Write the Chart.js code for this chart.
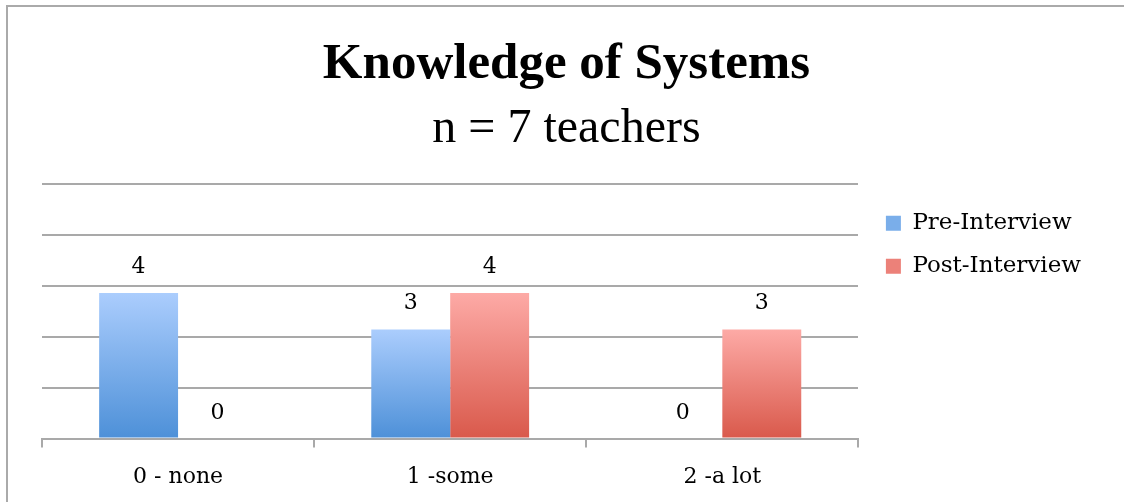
<!DOCTYPE html>
<html>
<head>
<meta charset="utf-8">
<script src="https://cdn.jsdelivr.net/npm/chart.js@4/dist/chart.umd.min.js"></script>
<style>
  html, body { margin: 0; padding: 0; background: #fff; }
  #wrap { position: relative; width: 1124px; height: 502px; overflow: hidden; }
  #frame {
    position: absolute; left: 6px; top: 5px; width: 2000px; height: 2000px;
    border-left: 2px solid #aaaaaa; border-top: 2px solid #aaaaaa;
  }
  #chart { position: absolute; left: 0; top: 0; }
</style>
</head>
<body>
<div id="wrap">
  <div id="frame"></div>
  <canvas id="chart" width="1124" height="502"></canvas>
</div>
<script>
// chart data
const categories = ["0 - none", "1 -some", "2 -a lot"];
const seriesNames = ["Pre-Interview", "Post-Interview"];
const preValues = [4, 3, 0];
const postValues = [0, 4, 3];
const yMax = 7;
const yStep = 1.4;

// colours (top -> bottom of each bar)
const blueTop = "#abcdfd";
const blueBottom = "#4d90d8";
const redTop = "#fdaaa6";
const redBottom = "#d9594b";

const gridColor = "#a9a9a9";
const smallFont = { family: "'DejaVu Serif', serif", size: 22 };
const legendFont = { family: "'DejaVu Serif', serif", size: 23 };

// gradient per bar, from its top down to the baseline
function barGradient(topColor, bottomColor, solid) {
  return function (context) {
    const chart = context.chart;
    if (!chart.chartArea || context.type !== "data") return solid;
    const yScale = chart.scales.y;
    const top = yScale.getPixelForValue(context.parsed.y);
    const bottom = yScale.getPixelForValue(0);
    if (bottom - top < 1) return solid;
    const g = chart.ctx.createLinearGradient(0, top, 0, bottom);
    g.addColorStop(0, topColor);
    g.addColorStop(1, bottomColor);
    return g;
  };
}

// value labels above every bar
const valueLabels = {
  id: "valueLabels",
  afterDatasetsDraw(chart) {
    const ctx = chart.ctx;
    ctx.save();
    ctx.font = smallFont.size + "px " + smallFont.family;
    ctx.fillStyle = "#000";
    ctx.textAlign = "center";
    ctx.textBaseline = "alphabetic";
    chart.data.datasets.forEach((ds, i) => {
      chart.getDatasetMeta(i).data.forEach((bar, j) => {
        ctx.fillText(String(ds.data[j]), bar.x, bar.y - 20);
      });
    });
    ctx.restore();
  },
};

new Chart(document.getElementById("chart"), {
  type: "bar",
  data: {
    labels: categories,
    datasets: [
      {
        label: seriesNames[0],
        data: preValues,
        backgroundColor: barGradient(blueTop, blueBottom, "#7aaeea"),
        borderWidth: 0,
      },
      {
        label: seriesNames[1],
        data: postValues,
        backgroundColor: barGradient(redTop, redBottom, "#ec8179"),
        borderWidth: 0,
      },
    ],
  },
  options: {
    responsive: false,
    animation: false,
    devicePixelRatio: 1,
    datasets: {
      bar: { categoryPercentage: 0.58, barPercentage: 1 },
    },
    layout: {
      padding: { left: 42, right: 33, top: 0, bottom: -4 },
    },
    plugins: {
      title: {
        display: true,
        text: "Knowledge of Systems",
        color: "#000",
        font: { family: "'Liberation Serif', serif", size: 51, weight: "bold", lineHeight: 1.2 },
        padding: { top: 34, bottom: 0 },
      },
      subtitle: {
        display: true,
        text: "n = 7 teachers",
        color: "#000",
        font: { family: "'Liberation Serif', serif", size: 48, lineHeight: 1.2 },
        padding: { top: 5, bottom: 26 },
      },
      legend: {
        position: "right",
        align: "start",
        fullSize: false,
        title: { display: true, text: "", font: { size: 8, lineHeight: 1 }, padding: 0 },
        labels: {
          color: "#000",
          font: legendFont,
          boxWidth: 15,
          boxHeight: 15,
          padding: 20,
          generateLabels(chart) {
            const solid = ["#7aaeea", "#ec8179"];
            return chart.data.datasets.map((ds, i) => ({
              text: ds.label,
              fillStyle: solid[i],
              strokeStyle: solid[i],
              lineWidth: 0,
              hidden: false,
              datasetIndex: i,
              fontColor: "#000",
            }));
          },
        },
      },
      tooltip: { enabled: false },
    },
    scales: {
      x: {
        grid: {
          offset: true,
          drawOnChartArea: false,
          drawTicks: true,
          tickLength: 9,
          color: gridColor,
          lineWidth: 2,
        },
        border: { display: true, color: gridColor, width: 2 },
        ticks: { color: "#000", font: smallFont, padding: 16 },
      },
      y: {
        position: "right",
        min: 0,
        max: yMax,
        ticks: { display: false, stepSize: yStep },
        grid: { drawTicks: false, color: gridColor, lineWidth: 2 },
        border: { display: false },
        afterFit(scale) {
          scale.width = 7.5;
        },
      },
    },
  },
  plugins: [valueLabels],
});
</script>
</body>
</html>
